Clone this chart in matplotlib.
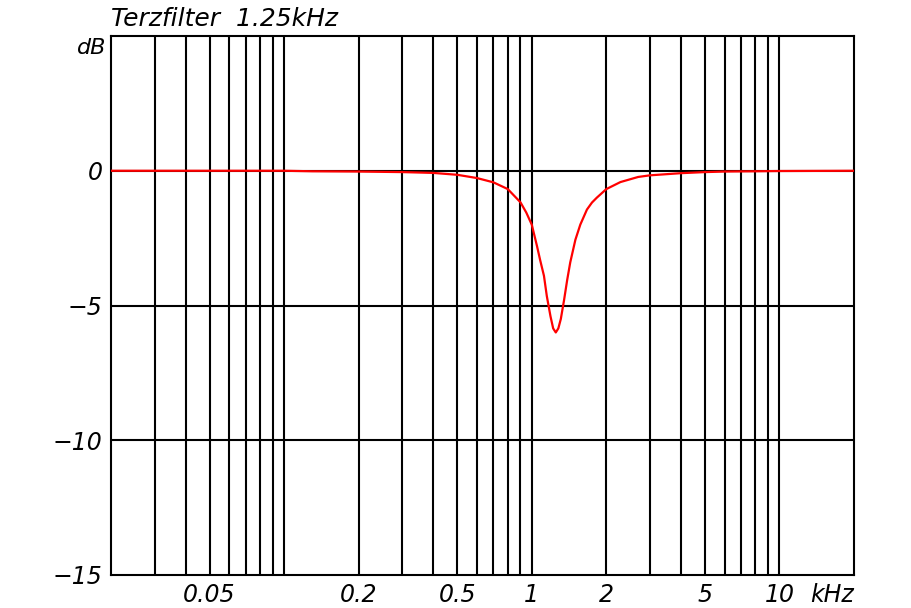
import numpy as np
import matplotlib
matplotlib.use("Agg")
import matplotlib.pyplot as plt

# values (kHz, dB)
freq_khz = [0.02, 0.1, 0.13, 0.2, 0.3, 0.4, 0.5, 0.6, 0.7, 0.8, 0.9, 0.95,
            1.0, 1.05, 1.08, 1.12, 1.15, 1.19, 1.22, 1.25, 1.28, 1.31, 1.35,
            1.39, 1.43, 1.5, 1.57, 1.67, 1.75, 1.83, 2.0, 2.28, 2.69, 3.0,
            4.0, 5.0, 6.0, 8.0, 10.0, 20.0]
gain_db = [0.0, 0.0, -0.02, -0.03, -0.05, -0.08, -0.15, -0.27, -0.43, -0.68,
           -1.17, -1.55, -2.0, -2.8, -3.3, -3.9, -4.65, -5.4, -5.85, -6.0,
           -5.85, -5.5, -4.8, -4.05, -3.4, -2.56, -2.0, -1.44, -1.18, -1.0,
           -0.68, -0.42, -0.23, -0.17, -0.09, -0.05, -0.03, -0.02, -0.01, 0.0]

grid_x = [0.03, 0.04, 0.05, 0.06, 0.07, 0.08, 0.09, 0.1,
          0.2, 0.3, 0.4, 0.5, 0.6, 0.7, 0.8, 0.9, 1.0,
          2, 3, 4, 5, 6, 7, 8, 9, 10]
grid_y = [-10, -5, 0]
xtick_vals = [0.05, 0.2, 0.5, 1, 2, 5, 10]
xtick_labels = ["0.05", "0.2", "0.5", "1", "2", "5", "10"]
ytick_vals = [-15, -10, -5, 0]
ytick_labels = ["\u221215", "\u221210", "\u22125", "0"]
title = "Terzfilter  1.25kHz"

plt.rcParams['font.family'] = ['DejaVu Sans']
fs = 17

fig = plt.figure(figsize=(9.12, 6.08), dpi=100)
ax = fig.add_axes([111/912, 1-575/608, (854-111)/912, (575-36)/608])

for gx in grid_x:
    ax.axvline(gx, color='black', lw=1.5, zorder=1)
for gy in grid_y:
    ax.axhline(gy, color='black', lw=1.5, zorder=1)

ax.plot(freq_khz, gain_db, color='#ff0000', lw=1.6, zorder=3)

ax.set_xscale('log')
ax.set_xlim(0.02, 20)
ax.set_ylim(-15, 5)
ax.minorticks_off()
ax.set_xticks(xtick_vals)
ax.set_xticklabels(xtick_labels, fontsize=fs, fontstyle='italic')
ax.set_yticks(ytick_vals)
ax.set_yticklabels(ytick_labels, fontsize=fs, fontstyle='italic')
ax.tick_params(length=0, pad=6)
for s in ax.spines.values():
    s.set_linewidth(1.5)

ax.annotate('kHz', xy=(1, 0), xycoords='axes fraction', xytext=(0, -6),
            textcoords='offset points', ha='right', va='top',
            fontsize=fs, fontstyle='italic')
ax.annotate('dB', xy=(0, 1), xycoords='axes fraction', xytext=(-3, -9),
            textcoords='offset points', ha='right', va='center',
            fontsize=fs - 1, fontstyle='italic')
fig.text(111/912, 1-26/608, title, fontsize=18, fontstyle='italic',
         ha='left', va='baseline')

fig.savefig('out.png', dpi=100)
